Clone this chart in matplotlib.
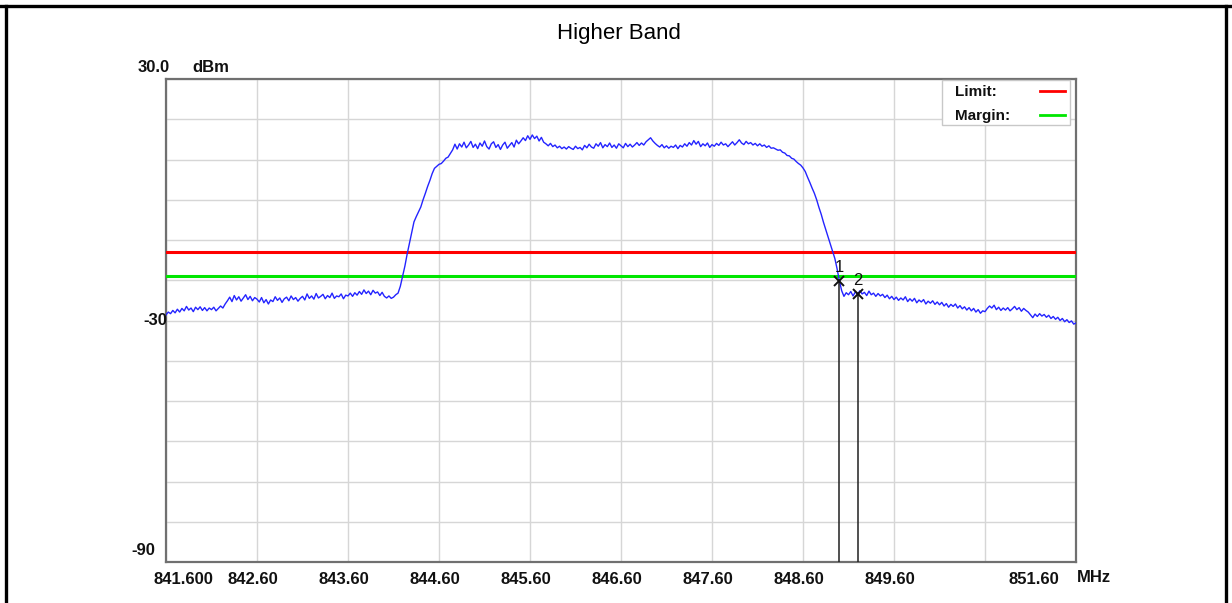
import numpy as np
import matplotlib
matplotlib.use("Agg")
import matplotlib.pyplot as plt
from matplotlib.lines import Line2D
from matplotlib.patches import Rectangle
import matplotlib.transforms as mtransforms

plt.rcParams['font.family'] = ['Liberation Sans', 'DejaVu Sans']

# ---------------- data ----------------
title = "Higher Band"
f_start, f_stop = 841.6, 851.6
y_top, y_bottom = 30.0, -90.0
x_tick_values = [841.6, 842.6, 843.6, 844.6, 845.6, 846.6, 847.6, 848.6, 849.6, 850.6, 851.6]
x_tick_labels = ["841.600", "842.60", "843.60", "844.60", "845.60", "846.60",
                 "847.60", "848.60", "849.60", "", "851.60"]
y_grid_values = [30, 20, 10, 0, -10, -20, -30, -40, -50, -60, -70, -80, -90]
limit_dbm = -13.0
margin_dbm = -19.0

# measured trace (dBm), uniform sweep from 841.60 to 851.60 MHz (401 points)
trace_dbm = [
    # 841.600 - 842.075
    -28.6, -27.9, -28.3, -27.5, -28.1, -27.2, -27.9, -27.0, -27.6, -26.5,
    -27.4, -26.9, -27.8, -26.7, -27.3, -26.6, -27.5, -26.8, -27.6, -26.9,
    # 842.100 - 842.575
    -27.3, -26.7, -27.6, -27.0, -26.4, -26.9, -25.9, -25.1, -24.2, -25.3,
    -23.8, -24.9, -24.1, -25.2, -24.4, -23.6, -24.8, -24.0, -25.1, -24.3,
    # 842.600 - 843.075
    -24.7, -25.4, -24.3, -25.6, -24.8, -25.9, -24.9, -25.3, -24.1, -25.0,
    -24.4, -25.5, -24.6, -24.2, -25.1, -23.9, -24.8, -24.3, -25.2, -24.5,
    # 843.100 - 843.575
    -24.0, -24.9, -23.4, -24.5, -23.9, -24.7, -23.3, -24.4, -24.0, -23.5,
    -24.6, -23.8, -24.3, -23.2, -24.5, -23.9, -24.1, -23.4, -24.6, -23.7,
    # 843.600 - 844.075
    -23.9, -23.2, -24.0, -23.1, -23.7, -22.8, -23.5, -22.4, -23.3, -22.7,
    -23.6, -22.5, -23.2, -22.9, -23.8, -23.0, -24.0, -24.4, -23.9, -24.5,
    # 844.100 - 844.150
    -24.2, -23.6, -23.2,
    # 844.175 - 844.775 (rising edge)
    -21.5, -19.0, -16.5, -13.5, -10.8, -8.2, -5.5, -4.2, -3.0, -1.8,
    0.0, 1.6, 3.3, 4.8, 6.5, 7.8, 8.3, 8.8, 9.0, 9.6,
    10.3, 10.6, 11.5, 12.4, 13.8,
    # 844.800 - 845.275
    12.6, 13.9, 13.1, 14.3, 12.9, 13.6, 14.5, 13.0, 13.8, 12.7,
    14.1, 13.3, 14.6, 13.2, 12.6, 13.9, 14.4, 13.0, 13.7, 12.5,
    # 845.300 - 845.775
    13.6, 14.3, 12.8, 13.5, 14.2, 13.1, 14.8, 13.9, 14.6, 15.4,
    14.7, 15.9, 15.0, 16.1, 15.2, 15.8, 14.6, 15.5, 14.3, 13.9,
    # 845.800 - 846.275
    13.4, 14.0, 13.2, 13.6, 12.9, 13.3, 12.7, 13.1, 12.6, 13.2,
    12.8, 12.5, 13.3, 12.7, 13.0, 12.4, 13.5, 12.9, 13.8, 13.1,
    # 846.300 - 846.775
    12.8, 13.9, 13.3, 14.2, 12.9, 13.7, 13.2, 14.1, 13.0, 13.6,
    12.8, 13.9, 13.4, 12.9, 14.0, 13.2, 13.8, 13.1, 13.6, 14.2,
    # 846.800 - 847.275
    13.5, 14.1, 13.6, 14.4, 14.9, 15.4, 14.6, 14.0, 13.5, 13.1,
    13.7, 12.9, 13.4, 12.8, 13.3, 13.0, 13.6, 12.7, 13.5, 13.1,
    # 847.300 - 847.775
    13.9, 13.3, 14.2, 13.6, 14.7, 13.8, 14.5, 13.2, 13.9, 13.4,
    14.1, 13.0, 13.7, 13.3, 14.0, 13.5, 14.3, 13.6, 13.9, 13.2,
    # 847.800 - 848.275
    13.8, 14.4, 13.6, 14.2, 14.9, 14.1, 13.7, 14.5, 13.9, 14.2,
    13.6, 14.0, 13.4, 13.9, 13.3, 13.6, 13.0, 13.4, 12.8, 12.9,
    # 848.300 - 848.675
    12.6, 12.3, 12.4, 11.8, 11.6, 11.0, 10.9, 10.3, 10.1, 9.5,
    9.0, 8.6, 7.9, 7.0, 5.6, 4.3,
    # 848.700 - 849.075 (falling edge)
    2.9, 1.6, 0.0, -1.9, -3.6, -5.6, -7.4, -9.2, -11.0, -12.8,
    -14.6, -17.2, -20.2, -22.6, -24.0, -23.1,
    # 849.100 - 849.575
    -23.6, -22.8, -23.9, -22.9, -23.5, -22.6, -23.4, -23.0, -23.8, -22.7,
    -23.6, -23.2, -24.0, -23.3, -23.9, -23.5, -24.3, -23.7, -24.6, -24.0,
    # 849.600 - 850.075
    -24.8, -24.2, -25.0, -24.4, -24.9, -24.1, -25.3, -24.6, -25.2, -24.5,
    -25.6, -24.9, -25.4, -24.8, -25.9, -25.2, -25.7, -25.1, -26.0, -25.4,
    # 850.100 - 850.575
    -26.1, -25.5, -26.4, -25.8, -26.7, -26.0, -26.5, -25.9, -26.9, -26.3,
    -27.1, -26.6, -27.4, -26.8, -27.6, -27.0, -27.9, -27.3, -28.2, -27.6,
    # 850.600 - 851.075
    -27.8, -27.0, -26.4, -26.9, -26.2, -27.3, -26.7, -27.5, -26.9, -27.4,
    -26.8, -27.6, -27.1, -26.5, -27.3, -26.8, -27.7, -27.0, -27.5, -27.9,
    # 851.100 - 851.600
    -28.6, -29.3, -28.4, -29.0, -28.3, -28.9, -28.5, -29.2, -28.7, -29.5,
    -29.0, -29.7, -29.2, -30.0, -29.5, -30.3, -29.8, -30.5, -30.1, -30.9,
    -30.6,
]
trace_freq = np.linspace(f_start, f_stop, len(trace_dbm))

marker_labels = ["1", "2"]
marker_freq = [849.00, 849.20]
marker_dbm = [-20.2, -23.5]

legend_names = ["Limit:", "Margin:"]
legend_colors = ["#ff0000", "#00e600"]

# ---------------- figure ----------------
W, H = 1232, 603
fig = plt.figure(figsize=(W / 100, H / 100), dpi=100)
fig.patch.set_facecolor("white")

# outer frame (top, left, right)
for (xs, ys) in [((0, 1), (1 - 6 / H, 1 - 6 / H)),
                 ((6 / W, 6 / W), (0, 1 - 6 / H)),
                 ((1 - 6 / W, 1 - 6 / W), (0, 1 - 6 / H))]:
    fig.add_artist(Line2D(xs, ys, color="black", lw=2.4, transform=fig.transFigure))

fig.text(619 / W, 1 - 33 / H, title, ha="center", va="center", fontsize=16, color="black")

ax_l, ax_r, ax_t, ax_b = 166, 1076, 79, 562
ax = fig.add_axes([ax_l / W, 1 - ax_b / H, (ax_r - ax_l) / W, (ax_b - ax_t) / H])
ax.set_xlim(f_start, f_stop)
ax.set_ylim(y_bottom, y_top)
for s in ax.spines.values():
    s.set_color("#707070")
    s.set_linewidth(1.6)

ax.set_yticks(y_grid_values)
ax.set_yticklabels([])
ax.set_xticks(x_tick_values)
ax.set_xticklabels(x_tick_labels, fontsize=12, fontweight="bold", color="#111111")
ax.tick_params(length=0, pad=7)
xlabels = ax.get_xticklabels()
for k, lbl in enumerate(xlabels):
    if k == 0:
        dx = 17
    elif k == len(xlabels) - 1:
        dx = -42
    else:
        dx = -4
    lbl.set_transform(lbl.get_transform() +
                      mtransforms.ScaledTranslation(dx / 100, 0, fig.dpi_scale_trans))
ax.grid(True, color="#d6d6d6", lw=1.0)
ax.set_axisbelow(True)

# y labels
blend = mtransforms.blended_transform_factory(ax.transAxes, ax.transData)
ax.text(0.001, -30, "-30", transform=blend, ha="right", va="center",
        fontsize=12, fontweight="bold", color="#111111")
ax.text(-0.012, -87.2, "-90", transform=blend, ha="right", va="center",
        fontsize=12, fontweight="bold", color="#111111")
fig.text(138 / W, 1 - 68 / H, "30.0", ha="left", va="center", fontsize=12,
         fontweight="bold", color="#111111")
fig.text(192 / W, 1 - 68 / H, "dBm", ha="left", va="center", fontsize=12,
         fontweight="bold", color="#111111")
fig.text(1094 / W, 1 - 577 / H, "MHz", ha="center", va="center", fontsize=12,
         fontweight="bold", color="#111111")

# limit and margin lines
ax.axhline(limit_dbm, color=legend_colors[0], lw=2.2, zorder=3)
ax.axhline(margin_dbm, color=legend_colors[1], lw=2.2, zorder=3)

# trace
ax.plot(trace_freq, trace_dbm, color="#2424ff", lw=1.0, zorder=4)

# markers
for lab, mf, md in zip(marker_labels, marker_freq, marker_dbm):
    ax.plot([mf, mf], [md, y_bottom], color="#202020", lw=1.1, zorder=5)
    ax.plot([mf], [md], marker="x", color="#111111", ms=7, mew=1.4, zorder=6)
    ax.annotate(lab, (mf, md), xytext=(0, 10), textcoords="offset points",
                ha="center", va="center", fontsize=12, color="#111111", zorder=6)

# legend box
lx0, lx1, ly0, ly1 = 942, 1070, 80, 125
ax.add_patch(Rectangle(((lx0 - ax_l) / (ax_r - ax_l), 1 - (ly1 - ax_t) / (ax_b - ax_t)),
                       (lx1 - lx0) / (ax_r - ax_l), (ly1 - ly0) / (ax_b - ax_t),
                       transform=ax.transAxes, facecolor="white", edgecolor="#c8c8c8",
                       lw=1.0, zorder=7))
for k, (name, col) in enumerate(zip(legend_names, legend_colors)):
    yy = 92 + 24 * k
    fig.text(955 / W, 1 - yy / H, name, ha="left", va="center", fontsize=11,
             fontweight="bold", color="#111111", zorder=8)
    fig.add_artist(Line2D([1040 / W, 1065 / W], [1 - (yy - 1) / H, 1 - (yy - 1) / H],
                          color=col, lw=2.0, transform=fig.transFigure, zorder=8))

fig.savefig("out.png", dpi=100, facecolor="white")
